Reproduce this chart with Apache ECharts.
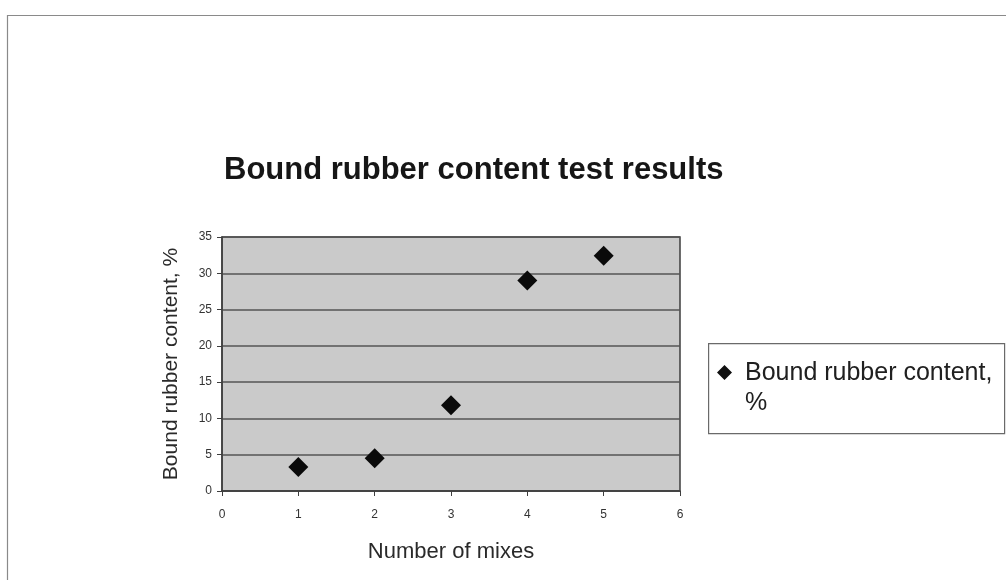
<!DOCTYPE html>
<html>
<head>
<meta charset="utf-8">
<script src="https://cdn.jsdelivr.net/npm/echarts@6/dist/echarts.min.js"></script>
<style>
  html, body { margin: 0; padding: 0; background: #ffffff; }
  #chart { width: 1006px; height: 580px; }
</style>
</head>
<body>
<div id="chart"></div>
<script>
// Bound rubber content measured for each number of mixes
const mixes = [1, 2, 3, 4, 5];
const boundRubber = [3.3, 4.5, 11.8, 29.0, 32.4];
const seriesName = 'Bound rubber content, %';
const titleText = 'Bound rubber content test results';
const xAxisName = 'Number of mixes';
const yAxisName = 'Bound rubber content, %';

const points = mixes.map((m, i) => [m, boundRubber[i]]);
const font = 'Arial, "Liberation Sans", Helvetica, sans-serif';

const chart = echarts.init(document.getElementById('chart'), null, { renderer: 'canvas' });

chart.setOption({
  backgroundColor: '#ffffff',
  animation: false,
  title: {
    text: titleText,
    left: 219,
    top: 150,
    textStyle: { fontFamily: font, fontSize: 31, fontWeight: 'bold', color: '#161616' }
  },
  graphic: [
    // frame around the chart sheet
    {
      type: 'rect', left: 5, top: 13, z: -1,
      shape: { width: 1010, height: 600 },
      style: { fill: 'none', stroke: '#8a8a8a', lineWidth: 1.2 }
    },
    // legend box
    {
      type: 'rect', left: 708, top: 343, z: 1,
      shape: { width: 296, height: 90 },
      style: { fill: '#ffffff', stroke: '#6a6a6a', lineWidth: 1.2 }
    }
  ],
  legend: {
    left: 712,
    top: 353,
    z: 5,
    itemGap: 0,
    itemWidth: 15,
    itemHeight: 46,
    // diamond drawn in the upper part of a tall icon box, so it sits beside the first text line
    icon: 'path://M7.5,0L15,7.5L7.5,15L0,7.5Z M7.5,46L7.5,46Z',
    formatter: () => 'Bound rubber content,\n%',
    textStyle: { fontFamily: font, fontSize: 25, lineHeight: 30, color: '#202020', padding: [0, 0, 0, 8] },
    data: [{ name: seriesName, itemStyle: { color: '#111111', opacity: 1 } }]
  },
  grid: {
    left: 222, right: 326, top: 237, bottom: 89,
    show: true,
    backgroundColor: '#cacaca',
    borderColor: '#3e3e3e',
    borderWidth: 1.5
  },
  xAxis: {
    type: 'value',
    min: 0, max: 6, interval: 1,
    name: xAxisName,
    nameLocation: 'middle',
    nameGap: 50,
    nameTextStyle: { fontFamily: font, fontSize: 22, color: '#2a2a2a' },
    axisLine: { show: true, lineStyle: { color: '#3e3e3e', width: 1.5 } },
    axisTick: { show: true, length: 5, lineStyle: { color: '#3e3e3e' } },
    axisLabel: { fontFamily: font, fontSize: 12, color: '#333333', margin: 18 },
    splitLine: { show: false }
  },
  yAxis: {
    type: 'value',
    min: 0, max: 35, interval: 5,
    name: yAxisName,
    nameLocation: 'middle',
    nameGap: 40,
    nameTextStyle: { fontFamily: font, fontSize: 21, color: '#2a2a2a' },
    axisLine: { show: true, lineStyle: { color: '#3e3e3e', width: 1.5 } },
    axisTick: { show: true, length: 5, lineStyle: { color: '#3e3e3e' } },
    axisLabel: { fontFamily: font, fontSize: 12, color: '#333333', margin: 10 },
    splitLine: { show: true, lineStyle: { color: '#555555', width: 1.5 } }
  },
  series: [{
    name: seriesName,
    type: 'scatter',
    data: points,
    symbol: 'diamond',
    symbolSize: 20,
    itemStyle: { color: '#0a0a0a', opacity: 1 },
    z: 3
  }]
});
</script>
</body>
</html>
